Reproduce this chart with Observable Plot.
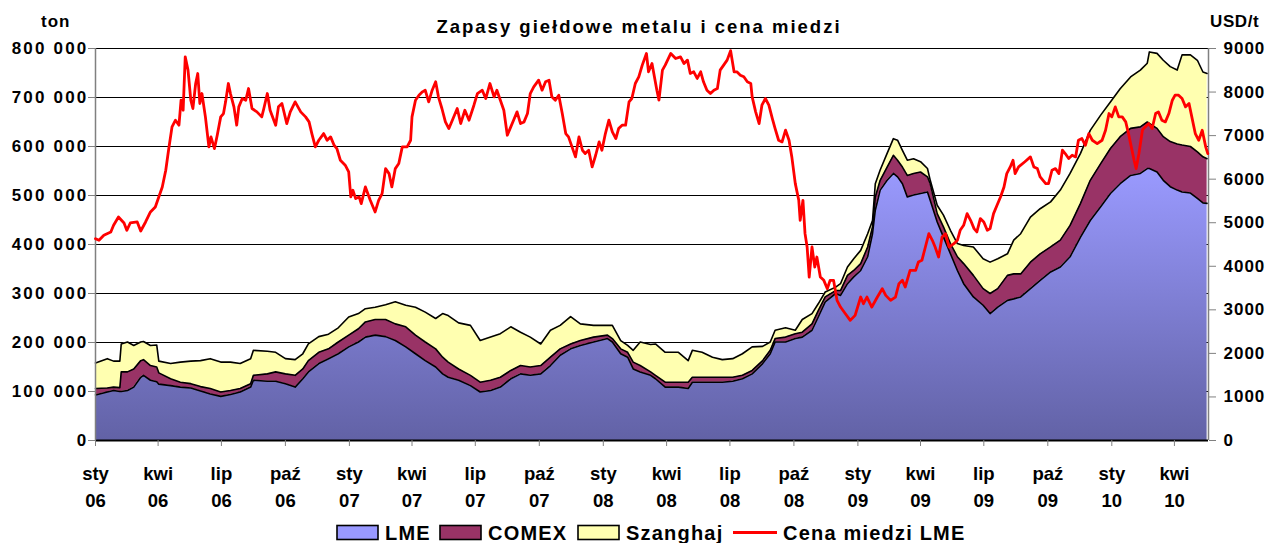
<!DOCTYPE html>
<html>
<head>
<meta charset="utf-8">
<script src="https://cdn.jsdelivr.net/npm/d3@7"></script>
<script src="https://cdn.jsdelivr.net/npm/@observablehq/plot@0.6"></script>
<style>
  html, body { margin: 0; padding: 0; background: #fff; overflow: hidden; }
  #wrap { position: relative; width: 1268px; height: 543px; font-family: "Liberation Sans", Arial, sans-serif; }
  #wrap svg { position: absolute; left: 0; top: 0; }
  .leftLabels text { letter-spacing: 2.2px; }
  .rightLabels text { letter-spacing: 1px; }
</style>
</head>
<body>
<div id="wrap"></div>
<script>
// ---------- DATA ----------
const seriesNames = ["LME", "COMEX", "Szanghaj"];
// stock observations: days since 2006-01-01; values in thousand tonnes
const stockDay = [0,17,26,35,37,46,55,65,69,79,88,91,108,122,137,151,165,180,194,208,223,227,247,259,273,287,298,306,321,335,349,364,378,388,402,417,431,446,460,474,489,499,507,522,539,553,568,582,597,611,625,640,654,668,683,697,716,736,743,755,765,773,783,798,805,819,838,852,858,872,887,901,916,930,944,959,970,977,992,1006,1016,1030,1039,1049,1064,1071,1081,1090,1100,1110,1117,1121,1128,1138,1147,1153,1160,1167,1176,1186,1196,1200,1210,1219,1229,1239,1248,1262,1276,1286,1297,1311,1320,1330,1344,1358,1373,1387,1401,1416,1430,1445,1459,1473,1488,1502,1512,1515,1526,1535,1545,1555,1562,1574,1584,1592,1598];
const lme = [93,99,102,100,100,102,109,129,133,123,120,115,112,109,107,101,95,90,94,99,109,123,121,121,116,109,126,140,157,167,177,191,201,211,215,212,204,191,177,163,150,136,129,123,112,99,102,109,126,136,133,136,153,174,187,194,201,208,201,177,170,146,140,133,126,109,109,106,119,119,119,119,121,126,136,157,177,201,201,208,211,225,252,283,300,296,320,334,347,375,422,470,511,531,545,538,524,497,501,504,507,490,446,415,381,347,320,293,276,259,272,286,289,293,310,327,344,354,375,415,449,477,504,524,541,545,555,555,548,531,518,511,507,505,494,485,484];
const comex = [13,8,7,8,40,38,37,34,32,30,30,23,14,10,9,9,11,9,8,7,7,10,15,19,20,24,20,23,23,20,24,24,27,31,32,35,34,41,38,38,37,34,31,23,21,20,21,20,17,17,17,17,17,13,10,10,10,7,7,10,10,14,13,7,7,10,10,13,10,10,10,10,8,7,7,6,7,7,10,10,10,13,13,10,6,10,17,13,14,20,14,27,20,27,37,34,34,44,44,44,31,34,17,21,21,28,41,44,34,41,38,51,51,47,54,54,51,55,64,69,82,88,92,96,96,95,95,92,89,89,92,94,96,95,95,94,91];
const szanghaj = [52,60,53,54,57,61,48,38,37,41,45,24,31,41,46,53,61,61,58,51,51,51,46,40,31,32,31,34,32,30,29,37,31,27,25,30,45,44,57,61,62,89,95,94,102,85,88,89,89,68,61,44,55,48,56,34,24,20,27,17,14,24,48,56,64,61,61,44,55,51,41,36,38,44,48,29,17,17,19,7,26,21,14,10,7,14,17,24,27,27,13,27,21,28,34,41,34,31,30,21,17,7,17,24,27,27,37,58,61,64,61,44,69,82,92,92,92,102,106,102,102,99,95,98,105,116,120,146,153,156,153,151,184,187,187,173,174];

// LME copper price, USD/t; days since 2006-01-01
const priceDay = [0,5,12,22,26,33,41,45,50,60,65,72,79,86,91,96,101,105,110,115,120,123,126,129,133,137,140,144,147,150,153,158,163,166,171,175,180,184,187,191,194,199,203,206,211,216,220,225,232,239,242,247,251,
259,263,268,275,280,287,295,302,307,311,316,321,328,333,338,343,347,352,359,364,367,370,374,379,382,388,395,402,407,412,417,422,426,431,436,441,448,453,455,460,465,470,474,479,484,489,493,498,503,508,513,520,525,531,
537,544,549,556,561,567,573,577,582,587,592,597,601,606,611,616,621,625,630,637,642,647,652,656,661,666,671,676,680,685,690,695,700,704,709,714,719,724,728,733,738,743,748,752,757,762,767,771,776,781,786,792,795,
800,807,810,815,819,827,834,841,846,851,855,860,865,870,874,879,884,889,894,898,903,908,913,918,922,927,932,937,942,944,949,954,958,963,968,973,977,982,987,992,997,1001,1006,1011,1013,1017,1020,1023,1026,1030,1034,1037,1042,1047,1052,1056,
1061,1066,1071,1078,1085,1092,1100,1104,1109,1116,1124,1131,1136,1143,1150,1155,1160,1164,1171,1179,1183,1188,1193,1198,1203,1207,1212,1217,1222,1227,1234,1239,1243,1248,1253,1258,1263,1267,1272,1277,1282,1286,1291,1296,1301,1306,1310,1315,1319,1322,1327,1336,
1344,1349,1354,1358,1366,1370,1375,1380,1385,1390,1394,1399,1404,1409,1413,1418,1423,1428,1433,1440,1447,1452,1457,1461,1466,1471,1476,1481,1485,1489,1493,1496,1500,1505,1509,1514,1519,1524,1528,1533,1538,1543,1548,1552,1557,1562,1567,1572,1576,1581,1586,1591,1596,1599];
const price = [4634,4596,4711,4788,4941,5132,4994,4826,4994,5017,4810,5017,5247,5362,5592,5822,6205,6664,7200,7354,7239,7813,7583,8809,8503,7813,7622,8196,8426,7737,7966,7430,6741,6971,6703,7009,7430,7507,7775,8196,7966,7660,7239,7660,7852,7813,8081,7622,7545,7430,7622,7966,7583,
7239,7660,7737,7277,7545,7775,7545,7430,7315,7047,6741,6894,7047,6894,6971,6779,6703,6434,6320,6166,5592,5745,5554,5592,5439,5822,5515,5247,5515,5668,6243,6128,5822,6243,6358,6741,6741,6894,7430,7813,7928,8005,8043,7775,8043,8235,7890,7622,7315,7162,7354,7622,7277,7583,
7354,7698,7966,8043,7852,8196,7890,8043,7813,7583,7009,7200,7354,7545,7277,7315,7507,7966,8120,8273,8043,8235,8273,7890,7813,7928,7507,7047,6971,6741,6511,6971,6664,6588,6664,6281,6549,6856,6664,7047,7354,7086,6932,7162,7239,7239,7775,7852,8196,8350,8618,8886,8465,
8656,8043,7813,8503,8618,8886,8771,8809,8656,8733,8426,8465,8312,8465,8235,8043,7966,8043,8081,8503,8618,8733,8950,8465,8465,8388,8350,8235,8196,7890,7545,7277,7698,7852,7698,7392,7162,6894,6856,7124,6894,6511,5898,5515,5056,5515,4749,4443,3753,4443,3983,4213,3753,3677,3485,3677,
3677,3217,3064,2911,2758,2873,3294,3141,3294,3064,3294,3485,3332,3217,3294,3600,3677,3524,3907,3907,4098,4136,4443,4749,4596,4443,4213,4673,4749,4443,4519,4596,4826,4941,5209,5056,4864,4788,5094,5017,4826,4864,5209,5400,5592,5822,6128,6281,6434,6128,6281,6400,
6511,6281,6243,6051,5898,5898,6205,6243,6128,6664,6588,6473,6549,6511,6894,6932,6779,7047,6894,6817,6894,7124,7507,7430,7660,7430,7430,7315,7047,6741,6434,6243,6588,7124,7200,7277,7162,7507,7545,7354,7315,7507,7813,7928,7928,7852,7660,7737,7430,7047,6894,7124,6741,6588];

// axes
const stockTicks = [0,100,200,300,400,500,600,700,800];        // thousand tonnes
const priceTicks = [0,1000,2000,3000,4000,5000,6000,7000,8000,9000];
const priceMax = 9000, stockMax = 800;
const monthLabels = ["sty","kwi","lip","paź"];
const yearLabels = ["06","07","08","09","10"];

// ---------- BUILD ----------
const t0 = Date.UTC(2006, 0, 1);
const day = n => new Date(t0 + n * 864e5);
const toStock = p => p * stockMax / priceMax;

const stockRows = stockDay.flatMap((d, i) => [
  {date: day(d), series: "LME", value: lme[i]},
  {date: day(d), series: "COMEX", value: comex[i]},
  {date: day(d), series: "Szanghaj", value: szanghaj[i]}
]);
const priceRows = priceDay.map((d, i) => ({date: day(d), price: price[i]}));

const quarterTicks = [];
yearLabels.forEach((y, yi) => monthLabels.forEach((m, mi) => {
  const dt = new Date(Date.UTC(2006 + yi, mi * 3, 1));
  if (dt <= day(1600)) quarterTicks.push(dt);
}));
const qLabel = d => monthLabels[d.getUTCMonth() / 3] + "\n" + yearLabels[d.getUTCFullYear() - 2006];

const font = "Liberation Sans, Arial, Helvetica, sans-serif";

const chart = Plot.plot({
  width: 1268, height: 543,
  marginLeft: 95, marginRight: 60, marginTop: 48, marginBottom: 103,
  style: {fontFamily: font, fontWeight: "bold", background: "transparent", color: "#000"},
  x: {type: "utc", domain: [day(0), day(1600)]},
  y: {domain: [0, stockMax]},
  color: {domain: seriesNames, range: ["url(#lmeGrad)", "#993366", "#FFFFB0"], legend: false},
  marks: [
    Plot.ruleY(stockTicks.filter(d => d > 0), {stroke: "#000", strokeWidth: 1}),
    Plot.areaY(stockRows, Plot.stackY({x: "date", y: "value", z: "series", fill: "series", order: seriesNames})),
    Plot.lineY(stockRows, Plot.stackY2({x: "date", y: "value", z: "series", order: seriesNames, stroke: "#000", strokeWidth: 1.6})),
    Plot.ruleY([0], {stroke: "#000", strokeWidth: 2}),
    Plot.ruleX([day(0)], {stroke: "#808080", strokeWidth: 1.5}),
    Plot.ruleX([day(1600)], {stroke: "#808080", strokeWidth: 1.5}),
    Plot.lineY(priceRows, {x: "date", y: d => toStock(d.price), stroke: "#FF0000", strokeWidth: 2.8}),
    Plot.axisY(stockTicks, {anchor: "left", tickSize: 7, tickPadding: 0, stroke: "#808080", fill: "#000",
      fontSize: 17, fontWeight: "bold", label: null,
      tickFormat: d => d === 0 ? "0" : d + " 000"}),
    Plot.axisY(priceTicks.map(toStock), {anchor: "right", tickSize: 7, tickPadding: 8, stroke: "#808080", fill: "#000",
      fontSize: 17, fontWeight: "bold", label: null,
      tickFormat: d => String(Math.round(d * priceMax / stockMax))}),
    Plot.axisX(quarterTicks, {anchor: "bottom", tickSize: 6, tickPadding: 14, stroke: "#808080", fill: "#000",
      fontSize: 18.5, fontWeight: "bold", lineHeight: 1.46, label: null, tickFormat: qLabel})
  ]
});

// tag the y-axis label groups so they can get their own letter spacing
chart.querySelectorAll('g[aria-label="y-axis tick label"]').forEach(g => {
  const anchor = g.getAttribute("text-anchor");
  g.classList.add(anchor === "start" ? "rightLabels" : "leftLabels");
});

// gradient for LME area
const NS = "http://www.w3.org/2000/svg";
const defs = document.createElementNS(NS, "defs");
const grad = document.createElementNS(NS, "linearGradient");
grad.setAttribute("id", "lmeGrad");
grad.setAttribute("x1", "0"); grad.setAttribute("y1", "0");
grad.setAttribute("x2", "0"); grad.setAttribute("y2", "1");
[["0", "#9A9AFF"], ["1", "#6262A6"]].forEach(([o, c]) => {
  const s = document.createElementNS(NS, "stop");
  s.setAttribute("offset", o); s.setAttribute("stop-color", c);
  grad.appendChild(s);
});
defs.appendChild(grad);
chart.insertBefore(defs, chart.firstChild);

const wrap = document.getElementById("wrap");
wrap.appendChild(chart);

// ---------- TITLE, UNITS, LEGEND ----------
const legendItems = [
  {label: "LME", kind: "box", color: "#9999FF", x: 337},
  {label: "COMEX", kind: "box", color: "#993366", x: 440},
  {label: "Szanghaj", kind: "box", color: "#FFFFB0", x: 578},
  {label: "Cena miedzi LME", kind: "line", color: "#FF0000", x: 733}
];
const over = document.createElementNS(NS, "svg");
over.setAttribute("width", 1268); over.setAttribute("height", 543);
over.setAttribute("style", "position:absolute;left:0;top:0;font-family:" + font + ";font-weight:bold");
let html = "";
html += `<text x="639" y="33" text-anchor="middle" font-size="18.5" style="letter-spacing:2px">Zapasy giełdowe metalu i cena miedzi</text>`;
html += `<text x="41" y="26.5" font-size="17" style="letter-spacing:1px">ton</text>`;
html += `<text x="1210" y="26.5" font-size="17" style="letter-spacing:0.6px">USD/t</text>`;
legendItems.forEach(it => {
  if (it.kind === "box") {
    html += `<rect x="${it.x}" y="525.5" width="41" height="14" fill="${it.color}" stroke="#000" stroke-width="1.6"/>`;
    html += `<text x="${it.x + 48}" y="539.5" font-size="20" style="letter-spacing:1.2px">${it.label}</text>`;
  } else {
    html += `<line x1="${it.x}" x2="${it.x + 44}" y1="532.5" y2="532.5" stroke="${it.color}" stroke-width="3"/>`;
    html += `<text x="${it.x + 50}" y="539.5" font-size="20" style="letter-spacing:1.2px">${it.label}</text>`;
  }
});
over.innerHTML = html;
wrap.appendChild(over);
</script>
</body>
</html>
